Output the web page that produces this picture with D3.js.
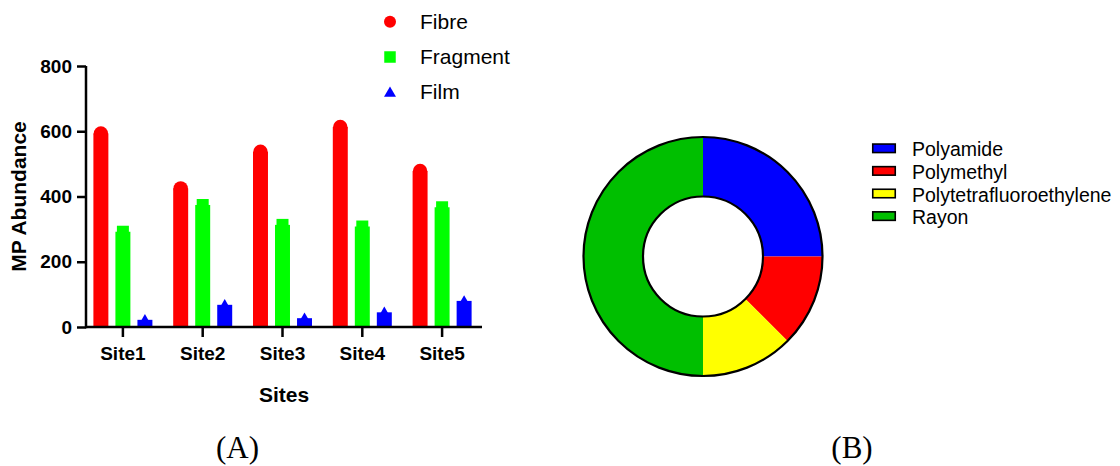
<!DOCTYPE html>
<html>
<head>
<meta charset="utf-8">
<script src="https://cdn.jsdelivr.net/npm/d3@7/dist/d3.min.js"></script>
<style>
  html, body { margin: 0; padding: 0; background: #fff; }
  svg { display: block; }
  text { font-family: "Liberation Sans", Arial, sans-serif; }
</style>
</head>
<body>
<svg id="chart" width="1120" height="466"></svg>
<script>
// Panel A: microplastic abundance per site, by shape
const sites = ["Site1", "Site2", "Site3", "Site4", "Site5"];
const shapes = ["Fibre", "Fragment", "Film"];
const fibre = [593, 425, 537, 613, 478];
const fragment = [292, 374, 313, 308, 367];
const film = [22, 68, 27, 45, 80];
const yTicks = [0, 200, 400, 600, 800];

// Panel B: polymer composition
const polymers = ["Polyamide", "Polymethyl", "Polytetrafluoroethylene", "Rayon"];
const polymerShare = [25, 12.5, 12.5, 50];

const shapeColors = { Fibre: "#ff0000", Fragment: "#00ff00", Film: "#0000ff" };
const polymerColors = ["#0000ff", "#ff0000", "#ffff00", "#00bf00"];

const svg = d3.select("#chart");
svg.append("rect").attr("width", 1120).attr("height", 466).attr("fill", "#fff");

// ---------- Panel A ----------
const x = d3.scaleBand().domain(sites).range([83, 482]).paddingInner(0).paddingOuter(0);
const xs = d3.scaleBand().domain(shapes).range([-29.5, 29.5]).paddingInner(0.32).paddingOuter(0);
const y = d3.scaleLinear().domain([0, 800]).range([327, 66]);

const series = [
  { key: "Fibre", values: fibre },
  { key: "Fragment", values: fragment },
  { key: "Film", values: film }
];

const gA = svg.append("g");

const symbolFor = {
  Fibre: d3.symbol().type(d3.symbolCircle).size(Math.PI * 7.2 * 7.2),
  Fragment: d3.symbol().type(d3.symbolSquare).size(12 * 12),
  Film: d3.symbol().type(d3.symbolTriangle).size(56)
};

series.forEach(s => {
  const g = gA.append("g").attr("fill", shapeColors[s.key]);
  const rows = sites.map((site, i) => ({ site, v: s.values[i] }));
  g.selectAll("rect").data(rows).join("rect")
    .attr("x", d => x(d.site) + x.bandwidth() / 2 + xs(s.key))
    .attr("width", xs.bandwidth())
    .attr("y", d => y(d.v))
    .attr("height", d => y(0) - y(d.v));
  g.selectAll("path").data(rows).join("path")
    .attr("d", symbolFor[s.key]())
    .attr("transform", d => {
      const cx = x(d.site) + x.bandwidth() / 2 + xs(s.key) + xs.bandwidth() / 2;
      const dy = s.key === "Film" ? 0.8 : 0;
      return `translate(${cx},${y(d.v) + dy})`;
    });
});

// Axes
const yAxis = gA.append("g")
  .attr("transform", "translate(86,0)")
  .call(d3.axisLeft(y).tickValues(yTicks).tickSize(9).tickPadding(5).tickSizeOuter(0));
const xAxis = gA.append("g")
  .attr("transform", `translate(0,${y(0)})`)
  .call(d3.axisBottom(x).tickSize(10).tickPadding(9.5).tickSizeOuter(0));

[yAxis, xAxis].forEach(ax => {
  ax.select(".domain").attr("stroke", "#000").attr("stroke-width", 2.5);
  ax.selectAll(".tick line").attr("stroke", "#000").attr("stroke-width", 2.5);
  ax.selectAll(".tick text")
    .attr("fill", "#000")
    .style("font-family", '"Liberation Sans", Arial, sans-serif')
    .style("font-weight", "bold")
    .style("font-size", "19px");
});
// y-axis line spans the full value range
yAxis.select(".domain").attr("d", `M0,${y(800)}V${y(0) + 1.25}`);
xAxis.select(".domain").attr("d", "M86,0H482");

gA.append("text")
  .attr("transform", `translate(26,${(y(0) + y(800)) / 2}) rotate(-90)`)
  .attr("text-anchor", "middle")
  .style("font-weight", "bold").style("font-size", "21px")
  .text("MP Abundance");

gA.append("text")
  .attr("x", (86 + 482) / 2).attr("y", 401.5)
  .attr("text-anchor", "middle")
  .style("font-weight", "bold").style("font-size", "21px")
  .text("Sites");

// Shape legend
const legA = gA.append("g").attr("transform", "translate(390,21.7)");
shapes.forEach((k, i) => {
  const row = legA.append("g").attr("transform", `translate(0,${i * 35.3})`);
  const sym = k === "Fibre" ? d3.symbol().type(d3.symbolCircle).size(Math.PI * 6 * 6)
    : k === "Fragment" ? d3.symbol().type(d3.symbolSquare).size(11.5 * 11.5)
    : d3.symbol().type(d3.symbolTriangle).size(62);
  row.append("path").attr("d", sym()).attr("fill", shapeColors[k])
    .attr("transform", k === "Film" ? "translate(0,1)" : null);
  row.append("text").attr("x", 30).attr("y", 6.8)
    .style("font-size", "21px").attr("fill", "#000").text(k);
});

// Panel captions
svg.append("text").attr("x", 237.5).attr("y", 458)
  .attr("text-anchor", "middle")
  .style("font-family", '"Liberation Serif", "Times New Roman", serif')
  .style("font-size", "31px").text("(A)");
svg.append("text").attr("x", 852).attr("y", 458)
  .attr("text-anchor", "middle")
  .style("font-family", '"Liberation Serif", "Times New Roman", serif')
  .style("font-size", "31px").text("(B)");

// ---------- Panel B ----------
const cx = 703, cy = 256.5, rOuter = 119.5, rInner = 60;
const pie = d3.pie().sort(null).value(d => d.v);
const arc = d3.arc().innerRadius(rInner).outerRadius(rOuter);
const pieData = pie(polymers.map((p, i) => ({ name: p, v: polymerShare[i], c: polymerColors[i] })));

const gB = svg.append("g").attr("transform", `translate(${cx},${cy})`);
gB.selectAll("path").data(pieData).join("path")
  .attr("d", arc)
  .attr("fill", d => d.data.c);
gB.append("circle").attr("r", rOuter).attr("fill", "none").attr("stroke", "#000").attr("stroke-width", 2.2);
gB.append("circle").attr("r", rInner).attr("fill", "none").attr("stroke", "#000").attr("stroke-width", 2.2);

// Polymer legend
const legB = svg.append("g").attr("transform", "translate(872,148.3)");
polymers.forEach((p, i) => {
  const row = legB.append("g").attr("transform", `translate(0,${i * 22.6})`);
  row.append("rect").attr("x", 0.75).attr("y", -4.25).attr("width", 22.5).attr("height", 8.5)
    .attr("fill", polymerColors[i]).attr("stroke", "#000").attr("stroke-width", 1.6);
  row.append("text").attr("x", 40).attr("y", 8)
    .style("font-size", "19.5px").attr("fill", "#000").text(p);
});
</script>
</body>
</html>
